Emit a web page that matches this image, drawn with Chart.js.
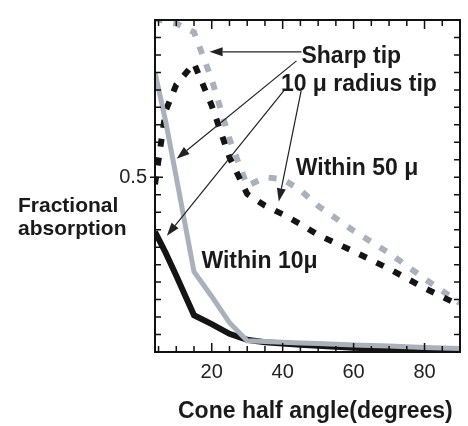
<!DOCTYPE html>
<html>
<head>
<meta charset="utf-8">
<script src="https://cdn.jsdelivr.net/npm/chart.js@4/dist/chart.umd.min.js"></script>
<style>
  html, body { margin: 0; padding: 0; background: #fff; }
</style>
</head>
<body>
<canvas id="myChart" width="468" height="426"></canvas>
<script>
// cone half angle (degrees)
const angles = [4, 7, 10, 15, 20, 25, 30, 35, 40, 45, 50, 60, 70, 80, 90];

// fractional absorption
const sharpWithin50 = [0.955, 0.945, 0.94, 0.915, 0.78, 0.61, 0.475, 0.5, 0.495, 0.463, 0.418, 0.347, 0.283, 0.21, 0.14];
const radiusWithin50 = [0.48, 0.69, 0.765, 0.826, 0.705, 0.557, 0.452, 0.419, 0.394, 0.366, 0.335, 0.288, 0.238, 0.183, 0.133];
const sharpWithin10 = [0.8, 0.66, 0.5, 0.23, 0.159, 0.084, 0.032, 0.03, 0.028, 0.026, 0.024, 0.02, 0.017, 0.013, 0.01];
const radiusWithin10 = [0.344, 0.284, 0.218, 0.105, 0.08, 0.052, 0.035, 0.028, 0.024, 0.021, 0.018, 0.012, 0.008, 0.005, 0.004];

const yTickLabels = [0.5];
const xTickLabels = [20, 40, 60, 80];

const GRAY = "#aab1ba";
const BLACK = "#141414";
const FONT = "'Liberation Sans', Arial, sans-serif";

// annotation text and arrows, in data units
const notes = [
  { text: "Sharp tip", x: 45.3, y: 0.828 },
  { text: "10 \u03bc radius tip", x: 39.5, y: 0.747 },
  { text: "Within 50 \u03bc", x: 43.7, y: 0.506 },
  { text: "Within 10\u03bc", x: 17.1, y: 0.239 },
];
const arrows = [
  [45.3, 0.859, 19.4, 0.859],
  [43.9, 0.833, 10.1, 0.553],
  [40.3, 0.747, 7.35, 0.333],
  [45.2, 0.747, 38.9, 0.431],
];

function toPoints(values) {
  return values.map((v, i) => ({ x: angles[i], y: v }));
}

function drawArrow(ctx, x1, y1, x2, y2) {
  const ang = Math.atan2(y2 - y1, x2 - x1);
  const len = 13, half = 4.5;
  const bx = x2 - Math.cos(ang) * len, by = y2 - Math.sin(ang) * len;
  ctx.beginPath();
  ctx.moveTo(x1, y1);
  ctx.lineTo(bx, by);
  ctx.stroke();
  ctx.beginPath();
  ctx.moveTo(x2, y2);
  ctx.lineTo(bx - Math.sin(ang) * half, by + Math.cos(ang) * half);
  ctx.lineTo(bx + Math.sin(ang) * half, by - Math.cos(ang) * half);
  ctx.closePath();
  ctx.fill();
}

const decorations = {
  id: "decorations",
  afterDatasetsDraw(chart) {
    const { ctx, chartArea: a, scales: { x, y } } = chart;
    ctx.save();

    // frame
    ctx.strokeStyle = "#111";
    ctx.lineWidth = 2;
    ctx.strokeRect(a.left, a.top, a.right - a.left, a.bottom - a.top);

    // inward tick marks
    ctx.lineWidth = 1.5;
    ctx.beginPath();
    for (let v = 5; v < 90; v += 5) {
      const px = x.getPixelForValue(v);
      const len = xTickLabels.includes(v) ? 9 : 6;
      ctx.moveTo(px, a.bottom);
      ctx.lineTo(px, a.bottom - len);
      ctx.moveTo(px, a.top);
      ctx.lineTo(px, a.top + len);
    }
    for (let i = 1; i < 19; i++) {
      const py = y.getPixelForValue(i * 0.05);
      const major = i === 10;
      ctx.moveTo(a.left - (major ? 5 : 0), py);
      ctx.lineTo(a.left + (major ? 8 : 6), py);
      ctx.moveTo(a.right, py);
      ctx.lineTo(a.right - 6, py);
    }
    ctx.stroke();

    // arrows
    ctx.strokeStyle = "#222";
    ctx.fillStyle = "#222";
    ctx.lineWidth = 1.2;
    arrows.forEach(([x1, y1, x2, y2]) => {
      drawArrow(ctx, x.getPixelForValue(x1), y.getPixelForValue(y1),
        x.getPixelForValue(x2), y.getPixelForValue(y2));
    });

    // labels on the plot
    ctx.fillStyle = "#1a1a1a";
    ctx.font = "bold 23px " + FONT;
    ctx.textAlign = "left";
    ctx.textBaseline = "alphabetic";
    notes.forEach((n) => {
      ctx.fillText(n.text, x.getPixelForValue(n.x), y.getPixelForValue(n.y));
    });

    // axis titles
    ctx.font = "bold 21px " + FONT;
    ctx.fillText("Fractional", 18, 212);
    ctx.fillText("absorption", 18, 235);
    ctx.font = "bold 23px " + FONT;
    ctx.fillText("Cone half angle(degrees)", 178, 418);

    ctx.restore();
  },
};

const ctx = document.getElementById("myChart").getContext("2d");

new Chart(ctx, {
  type: "line",
  data: {
    datasets: [
      {
        label: "Sharp tip, within 10 \u03bc",
        data: toPoints(sharpWithin10),
        borderColor: GRAY,
        borderWidth: 5,
      },
      {
        label: "10 \u03bc radius tip, within 10 \u03bc",
        data: toPoints(radiusWithin10),
        borderColor: BLACK,
        borderWidth: 6,
      },
      {
        label: "10 \u03bc radius tip, within 50 \u03bc",
        data: toPoints(radiusWithin50),
        borderColor: BLACK,
        borderWidth: 6,
        borderDash: [8, 11],
      },
      {
        label: "Sharp tip, within 50 \u03bc",
        data: toPoints(sharpWithin50),
        borderColor: GRAY,
        borderWidth: 6,
        borderDash: [8, 11],
      },
    ],
  },
  options: {
    responsive: false,
    animation: false,
    layout: { padding: { top: 10, right: 5, left: 0, bottom: 0 } },
    elements: {
      line: { tension: 0, fill: false, borderJoinStyle: "miter" },
      point: { radius: 0 },
    },
    datasets: { line: { clip: 0 } },
    plugins: {
      legend: { display: false },
      tooltip: { enabled: false },
    },
    scales: {
      x: {
        type: "linear",
        min: 4,
        max: 90,
        grid: { display: false, drawTicks: false },
        border: { display: false },
        afterFit: (scale) => { scale.height = 74; },
        ticks: {
          stepSize: 5,
          padding: 8,
          color: "#222",
          font: { family: FONT, size: 20 },
          maxRotation: 0,
          autoSkip: false,
          callback: (v) => (xTickLabels.includes(v) ? String(v) : ""),
        },
      },
      y: {
        type: "linear",
        min: 0,
        max: 0.95,
        grid: { display: false, drawTicks: false },
        border: { display: false },
        afterFit: (scale) => { scale.width = 155; },
        ticks: {
          stepSize: 0.05,
          padding: 8,
          color: "#222",
          font: { family: FONT, size: 20 },
          autoSkip: false,
          callback: (v) => {
            const hit = yTickLabels.find((t) => Math.abs(t - v) < 1e-6);
            return hit === undefined ? "" : String(hit);
          },
        },
      },
    },
  },
  plugins: [decorations],
});
</script>
</body>
</html>
